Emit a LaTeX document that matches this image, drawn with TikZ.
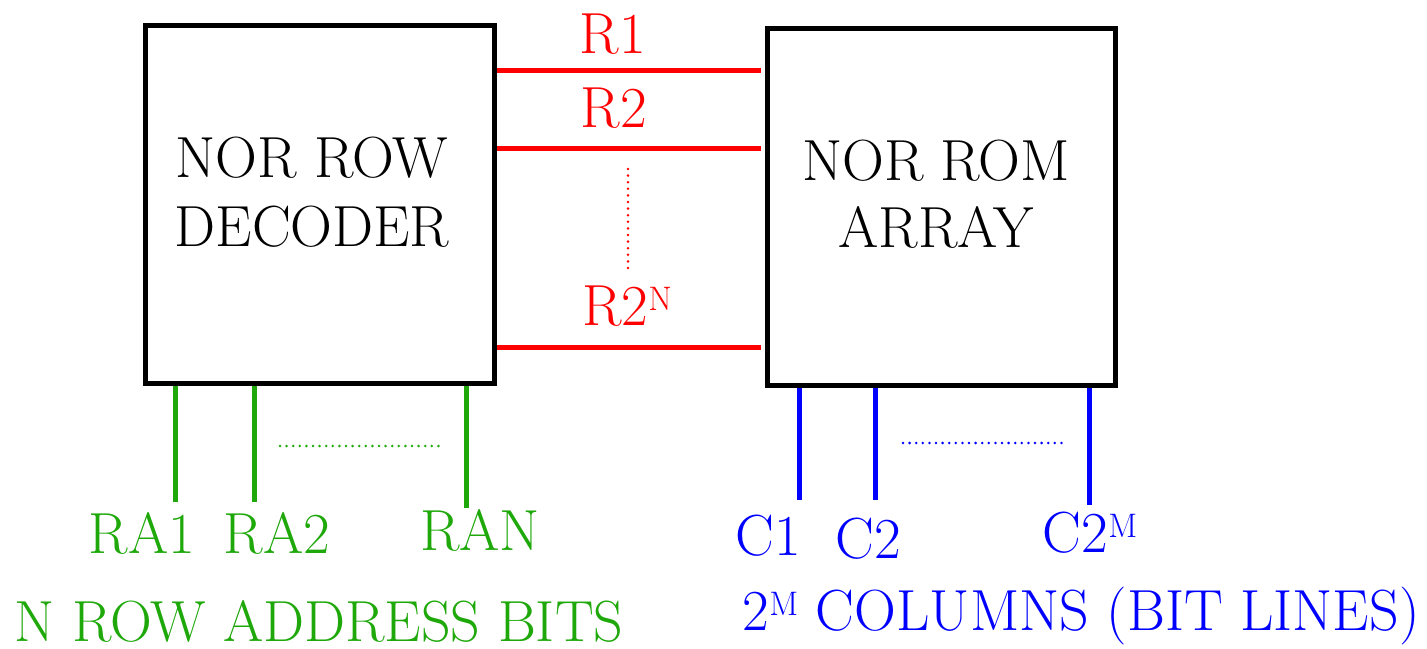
\documentclass[tikz,border=0pt]{standalone}
\definecolor{myred}{RGB}{255,0,0}
\definecolor{mygreen}{RGB}{30,168,10}
\definecolor{myblue}{RGB}{0,0,255}
\newcommand\mysup[1]{\raisebox{7.5pt}{\fontsize{17}{17}\selectfont #1}}
\tikzset{
  blk/.style={draw=black, line width=2.5pt, inner sep=0pt},
  bigtxt/.style={font=\fontsize{29}{34.5}\selectfont, align=center, inner sep=0pt},
  lbl/.style={font=\fontsize{29}{34.5}\selectfont, inner sep=0pt, anchor=base},
  rline/.style={draw=myred, line width=2.5pt},
  gline/.style={draw=mygreen, line width=2.5pt},
  bline/.style={draw=myblue, line width=2.5pt},
  dots/.style={line width=1.4pt, line cap=round, dash pattern=on 0pt off 3.3pt},
}
\begin{document}
\begin{tikzpicture}[x=0.5pt,y=-0.5pt]
\useasboundingbox (0,0) rectangle (1427,648);
% blocks
\node[blk, minimum width=174.5pt, minimum height=179pt] (L) at (320,204) {};
\node[blk, minimum width=174pt, minimum height=178.75pt] (R) at (941.5,206.75) {};
\node[bigtxt, anchor=base] (Lt1) at (312,177) {NOR ROW};
\node[bigtxt, anchor=base] (Lt2) at (312,246) {DECODER};
\node[bigtxt, anchor=base] (Rt1) at (936,180) {NOR ROM};
\node[bigtxt, anchor=base] (Rt2) at (936,247) {ARRAY};
% row lines
\coordinate (r1) at (761,70);
\coordinate (r2) at (761,148.5);
\coordinate (rn) at (761,347);
\draw[rline] (L.east |- r1) -- (r1);
\draw[rline] (L.east |- r2) -- (r2);
\draw[rline] (L.east |- rn) -- (rn);
\coordinate (rd1) at (628,169);
\coordinate (rd2) at (628,272);
\draw[myred, dots] (rd1) -- (rd2);
\node[lbl, text=myred] (R1) at (613,53) {R1};
\node[lbl, text=myred] (R2) at (614,127) {R2};
\node[lbl, text=myred] (R2N) at (627,325) {R2\mysup{N}};
% address lines
\coordinate (ga1) at (175,502);
\coordinate (ga2) at (254,502);
\coordinate (gan) at (466,508);
\draw[gline] (L.south -| ga1) -- (ga1);
\draw[gline] (L.south -| ga2) -- (ga2);
\draw[gline] (L.south -| gan) -- (gan);
\coordinate (gd1) at (280,446);
\coordinate (gd2) at (442,446);
\draw[mygreen, dots] (gd1) -- (gd2);
\node[lbl, text=mygreen] (RA1) at (142,553) {RA1};
\node[lbl, text=mygreen] (RA2) at (277,553) {RA2};
\node[lbl, text=mygreen] (RAN) at (480,550) {RAN};
\node[lbl, text=mygreen, anchor=base west] (nbits) at (14,641) {N ROW ADDRESS BITS};
% column lines
\coordinate (cb1) at (799,500);
\coordinate (cb2) at (875,500);
\coordinate (cbm) at (1089,505);
\draw[bline] (R.south -| cb1) -- (cb1);
\draw[bline] (R.south -| cb2) -- (cb2);
\draw[bline] (R.south -| cbm) -- (cbm);
\coordinate (bd1) at (903,443);
\coordinate (bd2) at (1065,443);
\draw[myblue, dots] (bd1) -- (bd2);
\node[lbl, text=myblue] (C1) at (768,555) {C1};
\node[lbl, text=myblue] (C2) at (868,558) {C2};
\node[lbl, text=myblue] (C2M) at (1090,552) {C2\mysup{M}};
\node[lbl, text=myblue, anchor=base east] (ncols) at (1420,630) {2\mysup{M} COLUMNS (BIT LINES)};
\end{tikzpicture}
\end{document}
